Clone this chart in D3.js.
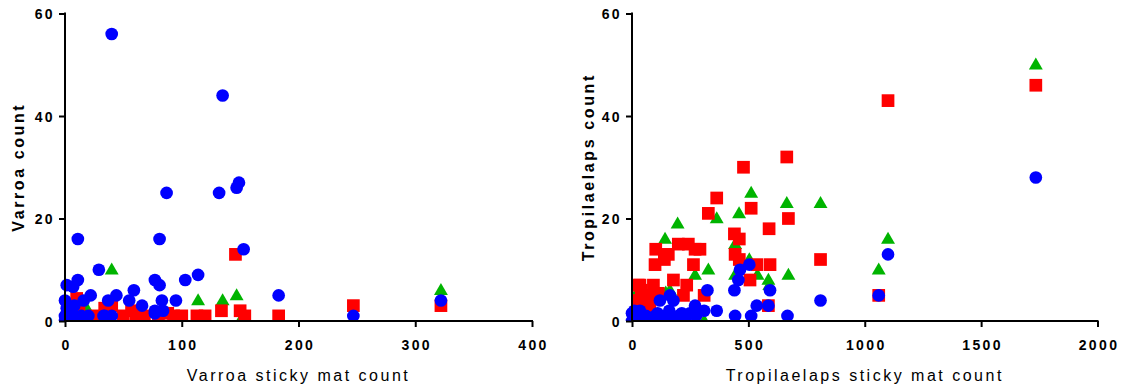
<!DOCTYPE html>
<html>
<head>
<meta charset="utf-8">
<script src="https://cdn.jsdelivr.net/npm/d3@7"></script>
<style>
  html, body { margin: 0; padding: 0; background: #fff; }
  svg { display: block; }
  .tick text { font-family: "Liberation Sans", Arial, sans-serif; font-weight: bold; font-size: 14px; letter-spacing: 2.4px; fill: #000; }
  .axis-title { font-family: "Liberation Sans", Arial, sans-serif; fill: #000; }
</style>
</head>
<body>
<svg id="chart" width="1129" height="390"></svg>
<script>
// Varroa panel: [sticky mat count, count]
const varroaBlue = [
  [40,56],[135,44],[132,25],[87,25],[147,26],[149,27],[153,14],[11,16],[81,16],
  [29,10],[11,8],[1.5,7],[7,6.7],[77,8],[81,7],[103,8],[114,9],[22,5],[44,5],[59,6],
  [55,4],[37,4],[16,4],[66,3],[83,4],[95,4],[77,2],[84,2],[77,1.5],[33,1],[40,1],
  [20,1],[34,1],[6,1.5],[1.5,2.5],[0,1],[3,0],[10,0],[14,1],[183,5],[247,1],[322,4],
  [0,4],[8,3],[4,0.5],[0,0]
];
const varroaRed = [
  [10,4.4],[34,2.5],[40,3],[57,2],[61,1],[68,1],[88,1.5],[100,1],[113,1],[146,13],
  [134,2],[150,2],[154,1],[183,1],[247,3],[322,3],[50,1],[80,1],[93,1],[120,1],[25,1],[12,2]
];
const varroaGreen = [
  [40,10],[114,4],[135,4],[147,5],[150,0],[18,2.7],[322,6],[8,0]
];

// Tropilaelaps panel: [sticky mat count, count]
const tropBlue = [
  [1735,28],[1100,13],[1060,5],[810,4],[504,11],[464,10],[457,8],[324,6],[440,6],[593,6],
  [586,3],[536,3],[310,2],[364,2],[443,1],[512,1],[668,1],[120,4],[163,5],[178,4],[34,2],
  [271,3],[249,1.5],[214,1.5],[200,1],[150,1],[100,1],[60,1],[20,1],[0,0],[10,2],[80,0],
  [130,0],[180,0],[230,0],[40,0],[110,1.5],[160,2],[275,1],[0,1.5]
];
const tropRed = [
  [1735,46],[1100,43],[1060,5],[810,12],[665,32],[479,30],[364,24],[512,22],[328,21],
  [672,20],[589,18],[440,17],[461,16],[443,13],[461,12],[292,14],[536,11],[593,11],
  [507,8],[586,3],[310,5],[199,15],[242,15],[271,14],[102,14],[156,13],[99,11],[139,12],
  [264,11],[178,8],[235,7],[34,7],[92,7],[27,7],[221,5],[49,4.4],[77,5],[56,5],[113,5.4],
  [77,3],[27,4],[30,2],[60,1],[40,6]
];
const tropGreen = [
  [1735,50],[1100,16],[1060,10],[810,23],[512,25],[364,20],[460,21],[665,23],[196,19],
  [142,16],[443,15],[504,12],[328,10],[672,9],[539,9],[586,8],[271,9],[443,9],[34,5.5],
  [163,6],[145,5.5],[27,6],[310,0],[8,2],[200,0],[590,7]
];

const varroaXTicks = [0, 100, 200, 300, 400];
const tropXTicks = [0, 500, 1000, 1500, 2000];
const countTicks = [0, 20, 40, 60];

const svg = d3.select("#chart");

const panels = [
  { id: "v", x0: 65, x1: 532, xMax: 400, xTicks: varroaXTicks,
    yTitle: "Varroa count", xTitle: "Varroa sticky mat count", titleX: 18,
    blue: varroaBlue, red: varroaRed, green: varroaGreen },
  { id: "t", x0: 632, x1: 1097.5, xMax: 2000, xTicks: tropXTicks,
    yTitle: "Tropilaelaps count", xTitle: "Tropilaelaps sticky mat count", titleX: 588,
    blue: tropBlue, red: tropRed, green: tropGreen }
];

const yTop = 13.5, yBottom = 321;
const size = 12.7;

panels.forEach(p => {
  const x = d3.scaleLinear().domain([0, p.xMax]).range([p.x0, p.x1]);
  const y = d3.scaleLinear().domain([0, 60]).range([yBottom, yTop]);

  // markers stop at the x axis line
  svg.append("clipPath").attr("id", "clip-" + p.id)
    .append("rect").attr("x", p.x0 - 20).attr("y", 0)
    .attr("width", p.x1 - p.x0 + 40).attr("height", yBottom);

  const g = svg.append("g").attr("clip-path", "url(#clip-" + p.id + ")");

  const tri = d3.symbol().type(d3.symbolTriangle).size(size * size * 0.52);
  g.selectAll("path.green").data(p.green).join("path")
    .attr("class", "green")
    .attr("d", tri)
    .attr("transform", d => `translate(${x(d[0])},${y(d[1]) + 0.8})`)
    .attr("fill", "#00b400");

  g.selectAll("rect.red").data(p.red).join("rect")
    .attr("class", "red")
    .attr("x", d => x(d[0]) - size / 2)
    .attr("y", d => y(d[1]) - size / 2)
    .attr("width", size).attr("height", size)
    .attr("fill", "#ff0000");

  g.selectAll("circle.blue").data(p.blue).join("circle")
    .attr("class", "blue")
    .attr("cx", d => x(d[0])).attr("cy", d => y(d[1]))
    .attr("r", size / 2)
    .attr("fill", "#0000ff");

  const xAxis = svg.append("g")
    .attr("transform", `translate(0,${yBottom})`)
    .call(d3.axisBottom(x).tickValues(p.xTicks).tickFormat(d3.format("d"))
      .tickSize(6).tickPadding(13).tickSizeOuter(0));
  const yAxis = svg.append("g")
    .attr("transform", `translate(${p.x0},0)`)
    .call(d3.axisLeft(y).tickValues(countTicks).tickFormat(d3.format("d"))
      .tickSize(6).tickPadding(4).tickSizeOuter(0));

  [xAxis, yAxis].forEach(a => {
    a.select(".domain").attr("stroke", "#000").attr("stroke-width", 2);
    a.selectAll(".tick line").attr("stroke", "#000").attr("stroke-width", 2);
  });
  xAxis.select(".domain").attr("d", `M${p.x0 - 1},0H${p.x1 + 1}`);
  yAxis.select(".domain").attr("d", `M0,${yBottom + 1}V${yTop - 1}`);
  xAxis.selectAll(".tick text").attr("dx", "1px");
  yAxis.selectAll(".tick text").attr("dy", "0.36em");

  svg.append("text").attr("class", "axis-title")
    .attr("transform", `translate(${p.titleX + 6},${(yTop + yBottom) / 2}) rotate(-90)`)
    .attr("text-anchor", "middle")
    .style("font-weight", "bold").style("font-size", "16px").style("letter-spacing", "2.6px")
    .text(p.yTitle);

  svg.append("text").attr("class", "axis-title")
    .attr("x", (p.x0 + p.x1) / 2).attr("y", 381)
    .attr("text-anchor", "middle")
    .style("font-size", "16px").style("letter-spacing", "2.5px")
    .text(p.xTitle);
});
</script>
</body>
</html>
